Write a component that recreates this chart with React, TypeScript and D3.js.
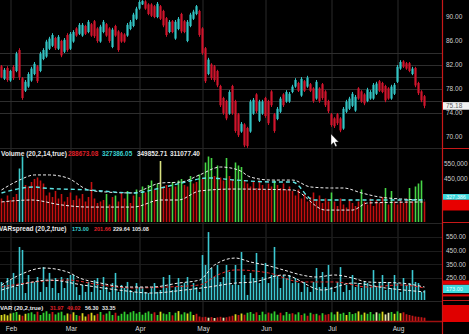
import React from "react";
import * as d3 from "d3";

// ---------- DATA ----------
const open = [81.8,79.7,81.5,79.4,81.7,81.0,84.5,79.8,77.7,78.4,79.4,80.5,81.8,81.0,83.0,83.4,84.7,85.2,86.5,84.7,86.0,84.2,87.0,84.7,85.9,88.1,87.2,86.9,88.5,87.5,88.8,89.3,88.1,85.9,87.5,88.8,88.1,85.0,88.5,87.6,87.3,87.1,86.9,88.0,88.5,89.7,91.4,92.1,92.6,92.1,92.1,91.8,90.0,91.8,91.0,89.8,87.5,89.3,86.4,88.0,90.5,89.3,86.0,88.5,89.7,90.5,91.0,88.1,84.8,80.5,82.1,81.8,81.0,78.5,76.5,76.0,73.9,78.5,76.0,73.8,70.9,72.1,71.5,70.9,73.9,77.1,72.7,73.9,76.5,76.0,77.6,73.8,73.0,74.2,77.1,75.9,75.9,77.5,78.4,79.0,76.9,79.3,78.4,78.8,78.1,76.4,78.1,78.8,77.6,76.0,73.8,73.1,73.8,73.1,71.4,74.2,74.7,75.2,74.4,78.1,77.6,77.1,76.0,76.4,76.4,77.2,79.3,79.0,78.5,78.1,76.4,77.2,79.2,81.4,82.6,82.3,82.3,80.5,81.5,79.0,77.6,76.8];
const high = [82.0,81.5,81.8,81.2,82.0,84.2,84.8,80.0,79.5,80.8,81.7,82.5,82.0,84.2,84.8,86.2,86.7,87.3,86.7,87.0,86.2,86.5,87.3,87.5,87.8,88.3,89.0,89.0,88.7,89.5,89.0,89.5,88.3,88.7,89.5,89.0,88.3,88.2,88.7,87.8,87.5,87.3,89.0,89.5,90.7,91.7,92.8,92.8,92.8,92.3,92.3,92.0,92.5,92.0,91.2,90.0,89.5,89.5,89.5,90.0,90.7,89.5,89.5,90.7,91.2,92.0,91.2,88.3,85.0,83.2,82.3,82.0,81.2,78.7,76.7,76.2,77.8,78.7,76.2,74.0,72.5,72.3,71.7,76.2,76.5,77.3,76.2,76.2,76.7,76.2,77.8,74.0,75.0,76.7,77.3,77.8,77.5,78.7,79.8,79.2,80.0,79.5,80.2,79.0,78.3,79.5,78.3,79.0,77.8,76.2,74.0,73.3,74.0,73.3,75.0,76.2,76.7,77.5,77.0,78.3,77.8,77.3,78.2,77.8,79.0,79.2,79.5,79.2,78.7,78.3,78.7,79.0,82.0,82.8,82.8,82.5,82.5,81.7,81.7,79.2,77.8,77.0];
const low = [79.8,79.5,79.2,79.2,79.5,80.8,79.5,76.2,77.5,78.2,79.2,80.3,79.0,80.8,82.8,83.2,84.5,85.0,84.5,84.5,83.3,84.0,84.2,84.5,85.7,86.7,87.0,86.7,87.0,87.3,86.7,86.5,85.7,85.7,87.3,86.7,85.7,84.8,86.7,84.2,85.7,85.7,86.7,87.8,88.3,89.5,91.2,92.0,91.2,90.3,90.0,89.8,89.8,89.5,88.3,86.7,87.3,87.3,86.2,87.8,87.3,87.3,85.8,88.3,89.5,90.3,86.7,83.7,79.0,80.3,79.5,79.2,78.3,75.0,73.7,72.8,73.7,73.7,70.7,70.0,70.7,68.3,68.2,70.7,73.7,74.0,72.5,73.7,73.2,72.0,75.0,70.7,72.8,74.0,75.0,75.7,75.7,77.3,78.2,77.5,76.7,77.5,78.2,77.5,75.7,76.2,75.7,76.2,75.0,74.0,71.7,71.5,72.0,70.8,71.2,74.0,74.5,75.0,74.2,76.2,75.7,75.3,75.8,76.2,76.2,77.0,77.5,77.3,75.8,76.2,76.2,77.0,79.0,81.2,81.5,81.2,80.8,80.3,78.3,77.0,75.8,74.8];
const close = [80.0,81.2,79.5,81.0,79.8,83.9,80.0,76.5,79.2,80.5,81.4,82.2,79.3,83.9,84.5,85.9,86.4,87.0,84.8,86.7,83.6,86.2,84.5,87.2,87.5,86.9,88.7,88.7,87.2,89.2,86.9,86.8,86.0,88.4,89.2,86.9,86.0,87.9,86.9,84.5,85.9,85.9,88.7,89.2,90.4,91.4,92.5,92.7,91.4,90.5,90.2,90.0,92.2,89.7,88.6,87.0,89.2,87.5,89.2,89.7,87.6,87.5,89.2,90.4,90.9,91.8,87.0,84.0,79.3,82.9,79.8,79.5,78.6,75.3,74.0,73.1,77.5,74.0,71.0,70.3,72.2,68.6,68.5,75.9,76.2,74.3,75.9,75.9,73.5,72.3,75.3,71.0,74.7,76.4,75.3,77.5,77.2,78.4,79.5,77.7,79.7,77.7,79.9,77.7,76.0,79.2,76.0,76.5,75.3,74.3,72.0,71.8,72.3,71.1,74.7,75.9,76.4,77.2,76.7,76.4,75.9,75.6,77.9,77.5,78.7,78.9,77.7,77.5,76.1,76.4,78.4,78.7,81.7,82.5,81.7,81.4,81.0,81.4,78.6,77.3,76.1,75.2];

// volume in thousands
const volume = [320,300,340,310,330,350,520,600,410,400,430,450,460,440,420,340,360,330,370,320,350,300,330,360,310,340,320,350,300,330,430,320,290,300,310,350,280,330,340,300,360,320,370,290,340,380,330,400,360,410,440,380,420,570,400,410,390,430,400,440,450,410,400,470,420,430,480,450,560,600,590,470,540,460,440,590,470,450,560,540,530,440,420,400,430,390,440,410,380,420,400,440,410,390,420,380,400,370,340,380,320,350,300,330,360,310,340,290,320,300,360,300,270,320,280,260,310,290,270,300,380,300,280,320,270,310,290,330,390,280,370,300,280,310,290,320,390,300,400,420,440,300];
const volColor = "rrrrrrccrr" + "rrrrrrrrrr" + "rrrrrrrrrr" + "rrrrrgrrgr" + "rrgrrgrgrg" + "grgyrrrgrg" + "grrgrrgrgg" + "grgrrgrrgg" + "grrrrrrrrr" + "rgrrrrrrrr" + "rrrrrrrrrr" + "grrrrrrrrr" + "grrrrrrrgr" + "grrrrrgrgg" + "gr";
// [bar index, value in thousands]
const volUpper = [[0,377],[6,443],[11,477],[16,477],[22,457],[29,377],[35,363],[44,357],[47,377],[53,423],[60,430],[66,477],[73,530],[79,510],[83,463],[90,443],[97,443],[103,397],[110,390],[114,390],[120,357],[126,330],[133,317],[141,310]];
const volMid = [[0,357],[11,397],[14,390],[29,377],[44,357],[53,390],[60,423],[69,457],[78,443],[91,430],[97,430],[104,310],[114,310],[122,310],[141,310]];
const volLower = [[0,297],[10,310],[20,277],[29,263],[44,263],[53,310],[59,310],[66,370],[77,383],[97,377],[108,243],[117,243],[122,290],[141,297]];

const spread = [221,199,250,235,287,184,477,455,140,272,213,221,257,148,330,184,287,177,250,140,257,177,250,272,272,184,126,199,148,221,148,235,250,162,257,184,148,213,287,148,199,177,221,162,148,213,184,184,148,140,177,213,148,162,257,177,272,162,184,250,199,213,257,162,213,184,148,418,345,586,323,257,345,221,257,345,294,200,345,199,440,272,126,287,250,433,213,257,360,213,272,477,272,177,272,250,272,213,250,213,148,221,184,148,221,323,184,294,184,345,184,148,221,330,148,199,162,272,184,213,177,221,213,184,308,184,213,272,162,221,177,272,213,148,250,199,213,308,221,213,148,160];
const spreadUpper = [[0,199],[6,272],[14,323],[22,294],[26,250],[33,213],[42,184],[50,184],[59,213],[66,235],[71,345],[78,396],[83,367],[88,345],[94,309],[100,272],[105,257],[111,272],[117,250],[122,221],[133,213],[141,184]];
const spreadRed = [[0,184],[11,221],[22,235],[33,199],[44,177],[55,184],[66,199],[72,272],[78,309],[89,287],[100,221],[111,221],[122,184],[133,199],[141,177]];
const spreadLower = [[0,162],[6,199],[16,235],[27,199],[39,162],[50,140],[61,162],[69,184],[78,213],[84,221],[94,272],[107,162],[117,213],[128,177],[141,148]];

const varVals = [40,45,38,50,55,60,42,35,48,52,58,45,62,40,55,65,48,60,44,56,62,38,50,45,58,40,35,52,30,45,55,38,48,60,42,50,65,40,55,35,48,62,45,58,66,50,60,42,55,64,48,58,40,62,50,45,60,38,55,66,44,58,50,62,40,48,30,25,28,22,26,20,24,28,22,25,30,35,45,40,50,42,55,60,48,58,40,62,45,56,50,64,42,55,38,60,48,52,44,58,40,50,35,55,45,48,38,52,42,46,58,44,62,48,55,40,60,46,52,64,42,56,48,60,45,58,50,62,44,55,60,48,64,52,58,45,40,35,30,28,25,22];
const varColor = "yyyyggyryg" + "ggrggggrgg" + "ggyrygryyr" + "yyrgrgggrg" + "gggggggggg" + "grgygggrgy" + "ggygyrrrrw" + "rwrrwrrryr" + "yrgggrgggr" + "gggrgggrgg" + "rgrgrgrgrr" + "ggyggygggy" + "gygggwgyww" + "gygyrrrrrr" + "rr";

const monthLabels = ["Feb", "Mar", "Apr", "May", "Jun", "Jul", "Aug"];
const monthStart = [3, 23, 46, 67, 88, 110, 132];

const priceTicks = [90, 86, 82, 78, 74, 70];
const priceGrid = [84, 82, 80, 78, 76, 74];
const volTicks = [550, 450];
const spreadTicks = [550, 450, 350, 250];
const lastPrice = "75.18";

const volLegend = [
  { t: "Volume (20,2,14,true)", c: "#e8e8e8" },
  { t: "288673.08", c: "#e0202a" },
  { t: "327386.05", c: "#3cd0d0" },
  { t: "349852.71", c: "#e8e8e8" },
  { t: "311077.40", c: "#e8e8e8" },
];
const volLegendX = [1, 68, 102, 137, 170];
const spreadLegend = [
  { t: "VARspread (20,2,true)", c: "#e8e8e8" },
  { t: "173.00", c: "#3cd0d0" },
  { t: "201.66", c: "#e0202a" },
  { t: "229.64", c: "#e8e8e8" },
  { t: "105.08", c: "#e8e8e8" },
];
const spreadLegendX = [-1, 72, 94, 113, 132];
const varLegend = [
  { t: "VAR (20,2,true)", c: "#e8e8e8" },
  { t: "31.97", c: "#e0202a" },
  { t: "49.02", c: "#e0202a" },
  { t: "56.30", c: "#e8e8e8" },
  { t: "33.35", c: "#e8e8e8" },
];
const varLegendX = [0, 50, 67, 85, 102];

// ---------- COMPONENT ----------
const W = 469;
const H = 334;
const AXIS_X = 442;
const FONT = "'Liberation Sans', Arial, sans-serif";

const UP = "#33c4c4";
const DOWN = "#d0142c";
const VC: Record<string, string> = { r: "#c41010", g: "#46d646", c: "#3cc8c8", y: "#d8e080" };
const VARC: Record<string, string> = { r: "#c81818", g: "#30d030", y: "#d8d820", w: "#e8e8b0" };

export default function App() {
  const N = close.length;
  const x = d3.scaleLinear().domain([0, N - 1]).range([1.5, 424.5]);
  const yP = d3.scaleLinear().domain([70, 90]).range([137, 17]);
  const yV = d3.scaleLinear().domain([450, 550]).range([179, 164]);
  const VBOT = 222;
  const yS = d3.scaleLinear().domain([250, 550]).range([278, 237]);
  const SBOT = 300;
  const yR = d3.scaleLinear().domain([0, 100]).range([321, 306]);

  const mkLine = (ys: d3.ScaleLinear<number, number>) =>
    d3
      .line<number[]>()
      .x((d) => x(d[0]))
      .y((d) => ys(d[1]))
      .curve(d3.curveMonotoneX);

  const lv = mkLine(yV);
  const ls = mkLine(yS);

  const legend = (items: { t: string; c: string }[], xs: number[], y: number, s0: number, s1: number) =>
    items.map((it, k) => (
      <text key={k} x={xs[k]} y={y} fill={it.c} fontSize={k === 0 ? s0 : s1} fontWeight="bold" fontFamily={FONT}>
        {it.t}
      </text>
    ));

  return (
    <div style={{ width: W, height: H }}>
      <style>{`body{margin:0;background:#000}`}</style>
      <svg width={W} height={H} style={{ display: "block", background: "#000" }}>
        <rect x={0} y={0} width={W} height={H} fill="#000" />

        {/* month gridlines */}
        {monthStart.map((m, k) => (
          <line key={k} x1={x(m) + 0.5} x2={x(m) + 0.5} y1={0} y2={322} stroke="#2b2b2b" strokeWidth={1} />
        ))}
        {/* price grid */}
        {priceGrid.map((p, k) => (
          <line key={k} x1={0} x2={AXIS_X} y1={Math.round(yP(p)) + 0.5} y2={Math.round(yP(p)) + 0.5} stroke="#2e2e2e" />
        ))}
        {spreadTicks.map((p, k) => (
          <line key={k} x1={0} x2={AXIS_X} y1={Math.round(yS(p)) + 0.5} y2={Math.round(yS(p)) + 0.5} stroke="#1c1c1c" />
        ))}
        {/* pane separators */}
        {[148, 223, 301].map((yy, k) => (
          <line key={k} x1={0} x2={AXIS_X} y1={yy + 0.5} y2={yy + 0.5} stroke="#262626" />
        ))}

        {/* candles */}
        {close.map((c, i) => {
          const o = open[i];
          const up = c >= o;
          const col = up ? UP : DOWN;
          const top = yP(Math.max(o, c));
          const bot = yP(Math.min(o, c));
          return (
            <g key={i}>
              <line x1={x(i)} x2={x(i)} y1={yP(high[i])} y2={yP(low[i])} stroke={col} strokeWidth={1} />
              <rect x={x(i) - 1.1} y={top} width={2.2} height={Math.max(1, bot - top)} fill={col} />
            </g>
          );
        })}

        {/* volume */}
        {volume.map((v, i) => (
          <rect key={i} x={x(i) - 0.8} y={yV(v)} width={1.6} height={VBOT - yV(v)} fill={VC[volColor[i]] || VC.r} />
        ))}
        <path d={lv(volLower) || ""} fill="none" stroke="#f0f0f0" strokeWidth={1} strokeDasharray="3,2" />
        <path d={lv(volUpper) || ""} fill="none" stroke="#f0f0f0" strokeWidth={1} strokeDasharray="3,2" />
        <path d={lv(volMid) || ""} fill="none" stroke="#5fe6e6" strokeWidth={1.4} strokeDasharray="4,3" />
        {legend(volLegend, volLegendX, 156, 6.6, 6.4)}

        {/* VARspread */}
        {spread.map((v, i) => (
          <rect key={i} x={x(i) - 0.8} y={yS(v)} width={1.6} height={SBOT - yS(v)} fill="#3cc8d2" />
        ))}
        <path d={ls(spreadRed) || ""} fill="none" stroke="#e02828" strokeWidth={1} strokeDasharray="3,2" />
        <path d={ls(spreadLower) || ""} fill="none" stroke="#f0f0f0" strokeWidth={1} strokeDasharray="3,2" />
        <path d={ls(spreadUpper) || ""} fill="none" stroke="#f0f0f0" strokeWidth={1} strokeDasharray="3,2" />
        {legend(spreadLegend, spreadLegendX, 230.5, 6.5, 5.5)}

        {/* VAR */}
        {varVals.map((v, i) => (
          <rect key={i} x={x(i) - 0.9} y={yR(v)} width={1.8} height={yR(0) - yR(v)} fill={VARC[varColor[i]] || VARC.g} />
        ))}
        <line x1={0} x2={AXIS_X} y1={321.5} y2={321.5} stroke="#a01010" strokeWidth={1.5} />
        {legend(varLegend, varLegendX, 309.5, 6.1, 5.4)}

        {/* month labels */}
        {monthLabels.map((m, k) => (
          <text key={k} x={x(monthStart[k]) + 1} y={330.5} fill="#dcdcdc" fontSize={6.6} fontFamily={FONT} textAnchor="middle">
            {m}
          </text>
        ))}

        {/* right panel */}
        <line x1={AXIS_X + 0.5} x2={AXIS_X + 0.5} y1={0} y2={H} stroke="#c81818" strokeWidth={1.2} />
        {[148, 222, 300].map((yy, k) => (
          <line key={k} x1={AXIS_X} x2={W} y1={yy + 0.5} y2={yy + 0.5} stroke="#c81818" strokeWidth={1} />
        ))}
        {priceTicks.map((p, k) => (
          <text key={k} x={446} y={yP(p) + 2.3} fill="#cfcfcf" fontSize={6.5} fontFamily={FONT}>
            {p.toFixed(2)}
          </text>
        ))}
        <rect x={AXIS_X + 1} y={yP(+lastPrice) - 3.8} width={W - AXIS_X - 1} height={7.6} fill="#f2f2f2" />
        <text x={446} y={yP(+lastPrice) + 2.3} fill="#606060" fontSize={6.5} fontFamily={FONT}>
          {lastPrice}
        </text>

        {volTicks.map((v, k) => (
          <text key={k} x={444} y={yV(v) + 2.3} fill="#cfcfcf" fontSize={6.5} fontFamily={FONT}>
            {d3.format(",")(v * 1000)}
          </text>
        ))}
        <rect x={AXIS_X + 1} y={yV(349.85)} width={W - AXIS_X - 1} height={yV(311) - yV(349.85)} fill="#3cd8dc" />
        <text x={446} y={yV(330) + 2} fill="#e8ffff" fontSize={5.5} fontFamily={FONT}>327,386</text>
        <rect x={AXIS_X + 1} y={yV(311)} width={W - AXIS_X - 1} height={yV(240) - yV(311)} fill="#e80000" />

        {spreadTicks.map((v, k) => (
          <text key={k} x={446} y={yS(v) + 2.3} fill="#cfcfcf" fontSize={6.5} fontFamily={FONT}>
            {v.toFixed(2)}
          </text>
        ))}
        <rect x={AXIS_X + 1} y={yS(232)} width={W - AXIS_X - 1} height={yS(201) - yS(232)} fill="#e00000" />
        <rect x={AXIS_X + 1} y={yS(200)} width={W - AXIS_X - 1} height={yS(140) - yS(200)} fill="#3cd8dc" />
        <text x={446} y={yS(170) + 2} fill="#e8ffff" fontSize={5.5} fontFamily={FONT}>173.00</text>
        <rect x={AXIS_X + 1} y={yS(130)} width={W - AXIS_X - 1} height={2} fill="#e00000" />
        <rect x={AXIS_X + 1} y={305} width={W - AXIS_X - 1} height={17} fill="#e00000" />

        {/* mouse cursor */}
        <path d="M331,134 L331,145 L333.6,142.6 L335.4,146.6 L337,146 L335.2,142 L338.6,142 Z" fill="#fff" stroke="#222" strokeWidth={0.4} />
      </svg>
    </div>
  );
}
